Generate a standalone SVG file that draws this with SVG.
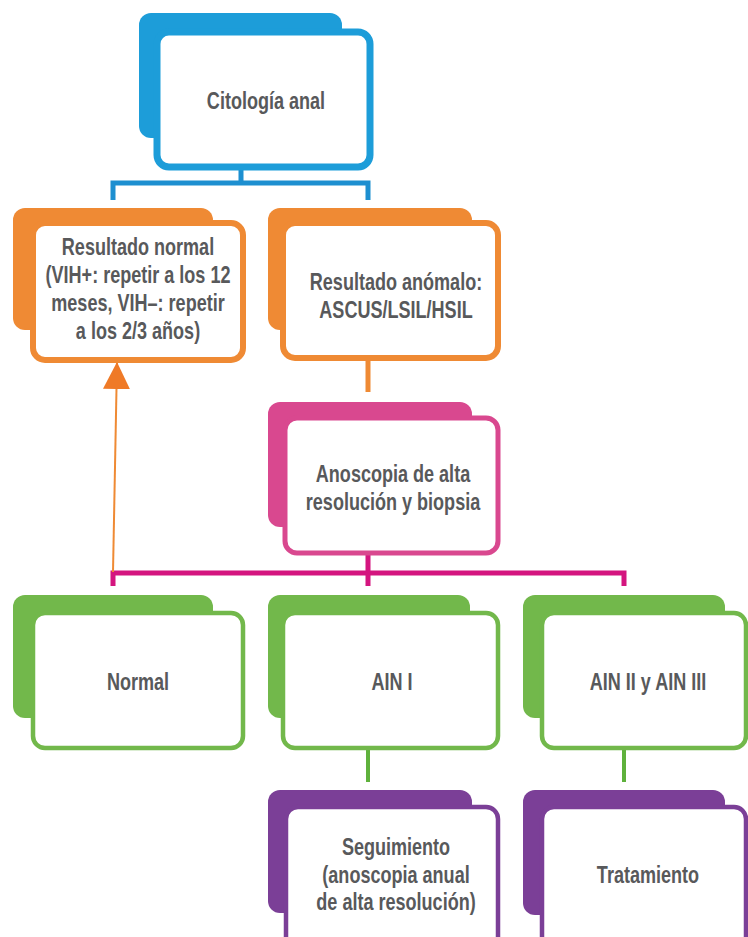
<svg xmlns="http://www.w3.org/2000/svg" width="748" height="937" viewBox="0 0 748 937">
<style>
.t{font-family:"Liberation Sans",Arial,sans-serif;font-weight:bold;font-size:23px;fill:#58595b;text-anchor:middle}
.front{fill:#fff}
.blue .back{fill:#1d9dd9}.blue .front{stroke:#1d9dd9;stroke-width:7}
.orange .back{fill:#ef8a34}.orange .front{stroke:#ef8a34;stroke-width:6}
.pink .back{fill:#d9488f}.pink .front{stroke:#d9488f;stroke-width:5}
.green .back{fill:#72b84b}.green .front{stroke:#72b84b;stroke-width:4.5}
.purple .back{fill:#7b3f97}.purple .front{stroke:#7b3f97;stroke-width:4.5}
.c{fill:none;stroke-linecap:butt;stroke-linejoin:miter}
</style>
<defs>
<marker id="ah" viewBox="0 0 10 10" refX="10" refY="5" markerWidth="27" markerHeight="27" markerUnits="userSpaceOnUse" orient="auto">
<path d="M0,0 L10,5 L0,10 Z" fill="#ef7a27"/>
</marker>
</defs>

<g id="connectors">
<path class="c" d="M241,167 V183 M113,200 V183 H368 V200" stroke="#1d8fd0" stroke-width="5"/>
<path class="c" d="M368,358 V392" stroke="#ef8a34" stroke-width="5"/>
<path class="c" d="M368,553 V573 M113,586 V573 H624 V586 M368,573 V586" stroke="#d4157f" stroke-width="5"/>
<path class="c" d="M368,748 V782 M624,748 V782" stroke="#5fb13c" stroke-width="4"/>
<path class="c" d="M113,572 L117,362" stroke="#ef8a34" stroke-width="2" marker-end="url(#ah)"/>
</g>

<g id="n-citologia" class="blue">
<rect class="back" x="139" y="13" width="203" height="125" rx="12"/>
<rect class="front" x="157" y="32" width="213" height="135" rx="12"/>
<text class="t" transform="translate(266 109) scale(0.785 1)">Citología anal</text>
</g>

<g id="n-normal-result" class="orange">
<rect class="back" x="13" y="208" width="200" height="122" rx="12"/>
<rect class="front" x="33" y="223" width="210" height="137" rx="12"/>
<text class="t" transform="translate(138 255) scale(0.785 1)">Resultado normal</text>
<text class="t" transform="translate(138 283) scale(0.785 1)">(VIH+: repetir a los 12</text>
<text class="t" transform="translate(138 311) scale(0.785 1)">meses, VIH–: repetir</text>
<text class="t" transform="translate(138 339) scale(0.785 1)">a los 2/3 años)</text>
</g>

<g id="n-anomalo" class="orange">
<rect class="back" x="268" y="208" width="204" height="122" rx="12"/>
<rect class="front" x="283" y="223" width="215" height="135" rx="12"/>
<text class="t" transform="translate(396 290) scale(0.785 1)">Resultado anómalo:</text>
<text class="t" transform="translate(396 318) scale(0.785 1)">ASCUS/LSIL/HSIL</text>
</g>

<g id="n-anoscopia" class="pink">
<rect class="back" x="268" y="402" width="204" height="125" rx="12"/>
<rect class="front" x="285" y="418" width="213" height="135" rx="12"/>
<text class="t" transform="translate(393 482) scale(0.785 1)">Anoscopia de alta</text>
<text class="t" transform="translate(393 510) scale(0.785 1)">resolución y biopsia</text>
</g>

<g id="n-normal" class="green">
<rect class="back" x="13" y="595" width="200" height="123" rx="12"/>
<rect class="front" x="33" y="613" width="210" height="135" rx="12"/>
<text class="t" transform="translate(138 690) scale(0.785 1)">Normal</text>
</g>

<g id="n-ain1" class="green">
<rect class="back" x="268" y="595" width="202" height="123" rx="12"/>
<rect class="front" x="283" y="613" width="215" height="135" rx="12"/>
<text class="t" transform="translate(392 690) scale(0.785 1)">AIN I</text>
</g>

<g id="n-ain23" class="green">
<rect class="back" x="523" y="595" width="202" height="123" rx="12"/>
<rect class="front" x="542" y="613" width="204" height="135" rx="12"/>
<text class="t" transform="translate(648 690) scale(0.785 1)">AIN II y AIN III</text>
</g>

<g id="n-seguimiento" class="purple">
<rect class="back" x="268" y="790" width="204" height="123" rx="12"/>
<rect class="front" x="286" y="807" width="212" height="145" rx="12"/>
<text class="t" transform="translate(396 855) scale(0.785 1)">Seguimiento</text>
<text class="t" transform="translate(396 883) scale(0.785 1)">(anoscopia anual</text>
<text class="t" transform="translate(396 910) scale(0.785 1)">de alta resolución)</text>
</g>

<g id="n-tratamiento" class="purple">
<rect class="back" x="523" y="790" width="202" height="125" rx="12"/>
<rect class="front" x="542" y="807" width="204" height="145" rx="12"/>
<text class="t" transform="translate(648 883) scale(0.785 1)">Tratamiento</text>
</g>
</svg>
